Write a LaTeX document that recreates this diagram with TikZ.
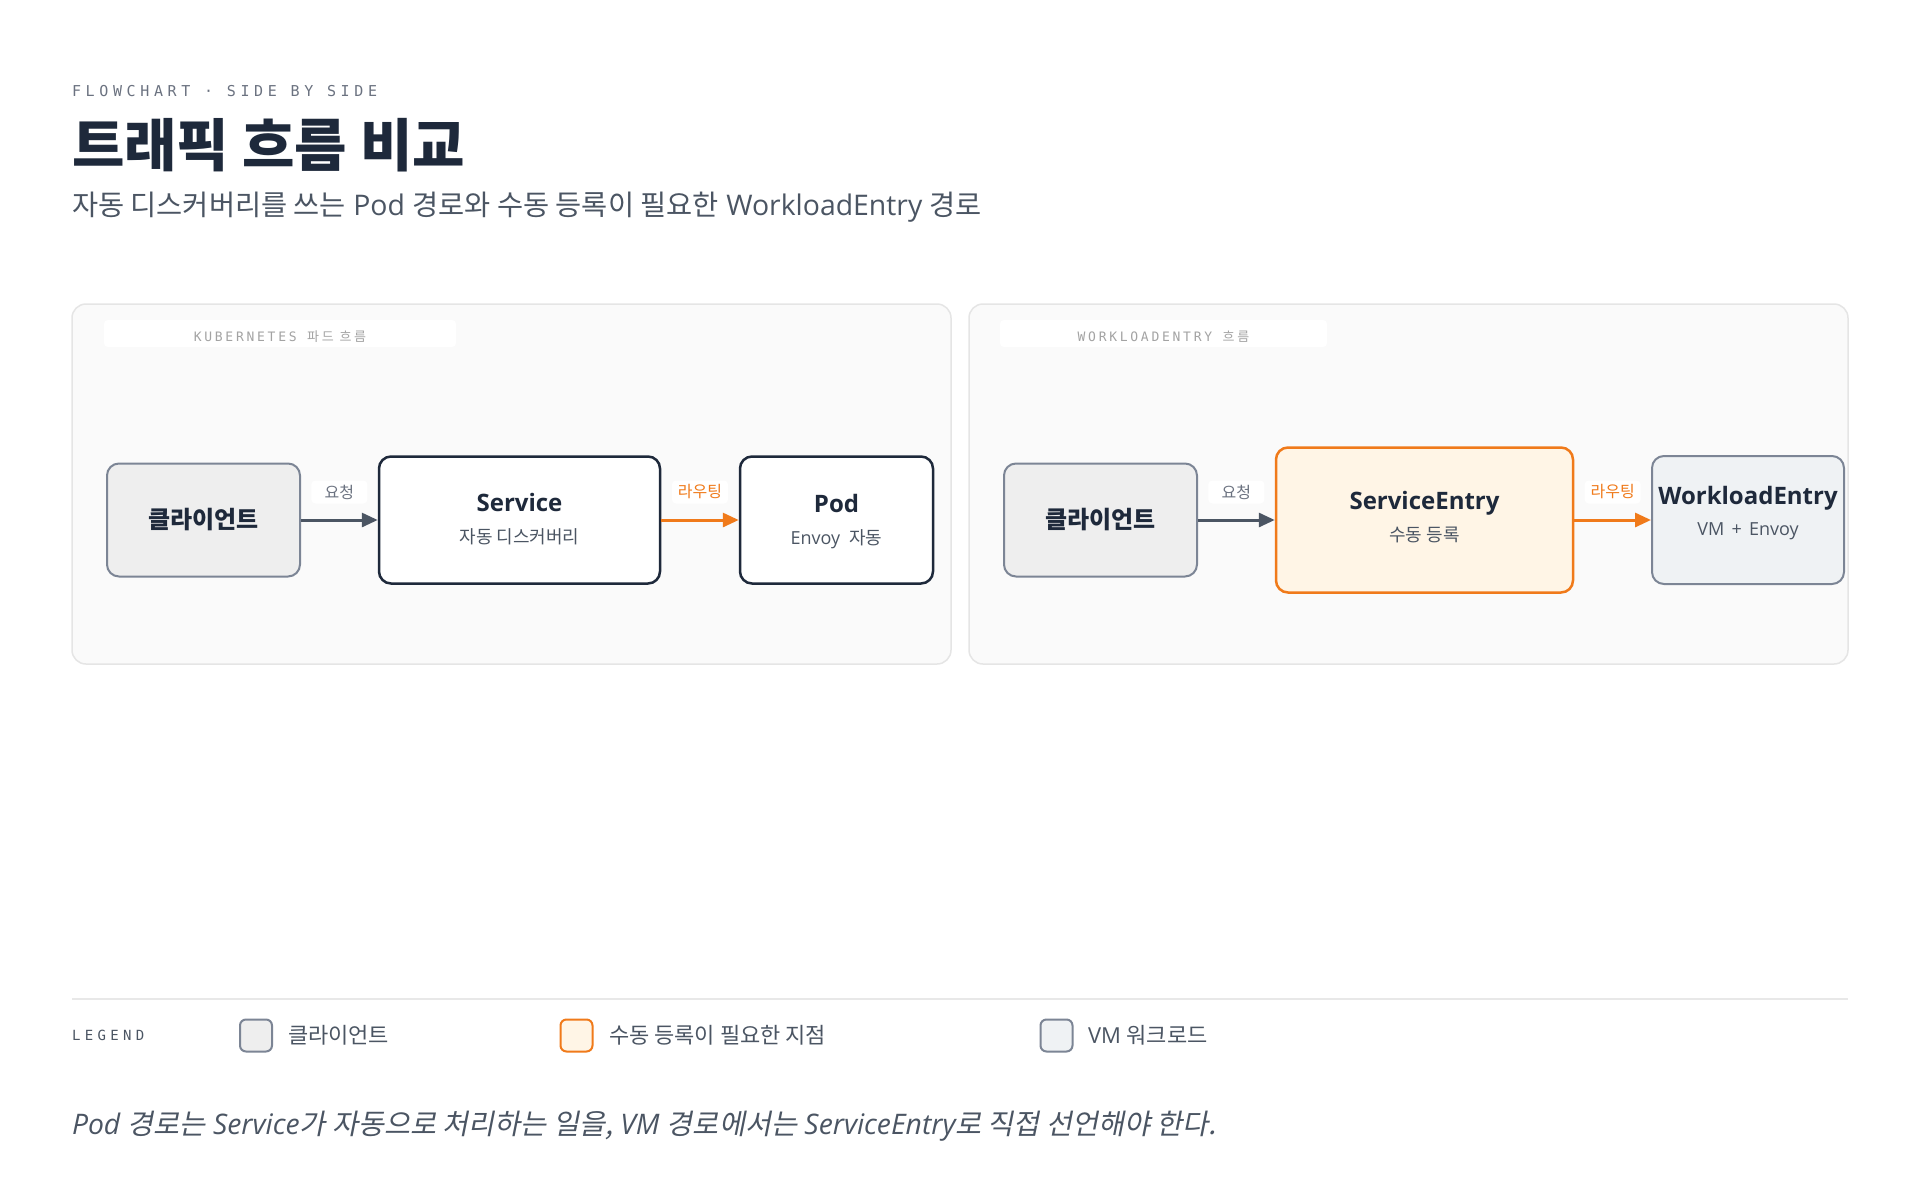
\documentclass[tikz,border=0pt]{standalone}
\usepackage{fontspec}
\setmainfont{Open Sans}
\newfontfamily\kr{Noto Sans CJK KR}
\newfontfamily\krit[FakeSlant=0.2]{Noto Sans CJK KR}
\newfontfamily\mono[LetterSpace=31]{DejaVu Sans Mono}
\newfontfamily\tabmono[LetterSpace=21]{DejaVu Sans Mono}
\newfontfamily\krtab[LetterSpace=21]{Noto Sans CJK KR}
\usetikzlibrary{arrows.meta}
\definecolor{ink}{HTML}{1E293B}
\definecolor{subink}{HTML}{4B5563}
\definecolor{eyebrow}{HTML}{6B7280}
\definecolor{panelbg}{HTML}{FAFAFA}
\definecolor{panelline}{HTML}{E5E5E5}
\definecolor{tabtext}{HTML}{A3A3A3}
\definecolor{clientbg}{HTML}{EEEEEE}
\definecolor{slateline}{HTML}{7C8595}
\definecolor{entrybg}{HTML}{FFF5E6}
\definecolor{routeorange}{HTML}{F07A1A}
\definecolor{vmbg}{HTML}{EFF2F4}
\definecolor{arrowgray}{HTML}{4B5563}
\definecolor{labelgray}{HTML}{6B7280}
\definecolor{ruleline}{HTML}{E8E8E8}
\newcommand\ko[1]{{\kr #1}}
\newcommand\fs[1]{\fontsize{#1}{#1}\selectfont}

\begin{document}
\begin{tikzpicture}[x=1pt,y=-1pt,
                    txt/.style={inner sep=0pt,outer sep=0pt},
                    panel/.style={draw=panelline,fill=panelbg,line width=1.5pt,rounded corners=14pt},
                    tab/.style={fill=white,rounded corners=4pt,minimum height=27pt,inner sep=0pt},
                    tabtitle/.style={txt,text=tabtext,font=\fs{13}\tabmono},
                    box/.style={rounded corners=12pt,inner sep=0pt,minimum width=193pt,minimum height=127pt},
                    clientbox/.style={box,draw=slateline,fill=clientbg,line width=2pt,minimum height=113pt},
                    darkbox/.style={box,draw=ink,fill=white,line width=2.5pt},
                    titletext/.style={txt,anchor=base,text=ink,font=\fs{24}\bfseries},
                    subtext/.style={txt,anchor=base,text=subink,font=\fs{18}},
                    flow/.style={draw=arrowgray,line width=3pt,-{Triangle[length=16pt,width=14pt]}},
                    route/.style={draw=routeorange,line width=3pt,-{Triangle[length=16pt,width=14pt]}},
                    edgelabel/.style={fill=white,rounded corners=4pt,inner sep=0pt,minimum width=56pt,minimum height=23pt,font=\fs{16}\kr},
                    swatch/.style={rounded corners=6pt,line width=2pt,minimum size=32pt,inner sep=0pt},
                    legendtext/.style={txt,anchor=west,text=subink,font=\fs{22}}]
                    \useasboundingbox[fill=white] (0,0) rectangle (1920,1200);

                    \node[txt,anchor=base west,text=eyebrow,font=\fs{15}\mono] (eyebrow) at (72,96) {FLOWCHART · SIDE BY SIDE};
                    \node[txt,anchor=base west,text=ink,font=\fs{57}\bfseries\kr] (title) at (72,166) {트래픽 흐름 비교};
                    \node[txt,anchor=base west,text=subink,font=\fs{28.4}] (subtitle) at (72,215) {\ko{자동 디스커버리를 쓰는} Pod \ko{경로와 수동 등록이 필요한} WorkloadEntry \ko{경로}};

                    \draw[panel] (72,304) rectangle (951,664);
                    \draw[panel] (969,304) rectangle (1848,664);
                    \node[tab,minimum width=352pt] (k8stab) at (280,333.5) {};
                    \node[tabtitle] (k8stabtext) at (280,337) {KUBERNETES {\krtab 파드 흐름}};
                    \node[tab,minimum width=327pt] (wetab) at (1163.5,333.5) {};
                    \node[tabtitle] (wetabtext) at (1163.5,337) {WORKLOADENTRY {\krtab 흐름}};

                    \node[clientbox,text=ink,font=\fs{24}\bfseries\kr] (cli1) at (203.5,520) {클라이언트};
                    \node[darkbox,minimum width=281pt] (svc) at (519.5,520) {};
                    \node[darkbox] (pod) at (836.5,520) {};
                    \node[titletext] (svctitle) at (519.5,511.5) {Service};
                    \node[subtext,font=\fs{18}\kr] (svcsub) at (519.5,543) {자동 디스커버리};
                    \node[titletext] (podtitle) at (836.5,512) {Pod};
                    \node[subtext] (podsub) at (836.5,544) {Envoy\hspace{0.5em}\ko{자동}};
                    \draw[flow] (cli1) -- node[edgelabel,yshift=28pt,text=labelgray] (req1) {요청} (svc);
                    \draw[route] (svc) -- node[edgelabel,yshift=28pt,text=routeorange] (rt1) {라우팅} (pod);

                    \node[clientbox,text=ink,font=\fs{24}\bfseries\kr] (cli2) at (1100.5,520) {클라이언트};
                    \node[box,draw=routeorange,fill=entrybg,line width=2.5pt,minimum width=297pt,minimum height=145pt] (se) at (1424.5,520) {};
                    \node[box,draw=slateline,fill=vmbg,line width=2pt,minimum width=192pt,minimum height=128pt] (we) at (1748,520) {};
                    \node[titletext] (setitle) at (1424.5,509.5) {ServiceEntry};
                    \node[subtext,font=\fs{18}\kr] (sesub) at (1424.5,541) {수동 등록};
                    \node[titletext] (wetitle) at (1748,504) {WorkloadEntry};
                    \node[subtext] (wesub) at (1748,535) {VM\hspace{0.4em}+\hspace{0.4em}Envoy};
                    \draw[flow] (cli2) -- node[edgelabel,yshift=28pt,text=labelgray] (req2) {요청} (se);
                    \draw[route] (se) -- node[edgelabel,yshift=28pt,text=routeorange] (rt2) {라우팅} (we);

                    \draw[ruleline,line width=1.5pt] (72,999) -- (1848,999);
                    \node[txt,anchor=west,text=subink,font=\fs{14}\mono] (legend) at (72,1035.5) {LEGEND};
                    \node[swatch,draw=slateline,fill=clientbg] (sw1) at (256,1035.5) {};
                    \node[legendtext,font=\fs{22}\kr] (lg1) at (288,1035.5) {클라이언트};
                    \node[swatch,draw=routeorange,fill=entrybg] (sw2) at (576.5,1035.5) {};
                    \node[legendtext,font=\fs{22}\kr] (lg2) at (609,1035.5) {수동 등록이 필요한 지점};
                    \node[swatch,draw=slateline,fill=vmbg] (sw3) at (1056.5,1035.5) {};
                    \node[legendtext] (lg3) at (1088,1035.5) {VM \ko{워크로드}};

                    \node[txt,anchor=base west,text=subink,font=\fs{28.3}\itshape] (note) at (72,1134) {Pod {\krit 경로는} Service{\krit 가 자동으로 처리하는 일을,} VM {\krit 경로에서는} ServiceEntry{\krit 로 직접 선언해야 한다.}};
                \end{tikzpicture}
\end{document}
